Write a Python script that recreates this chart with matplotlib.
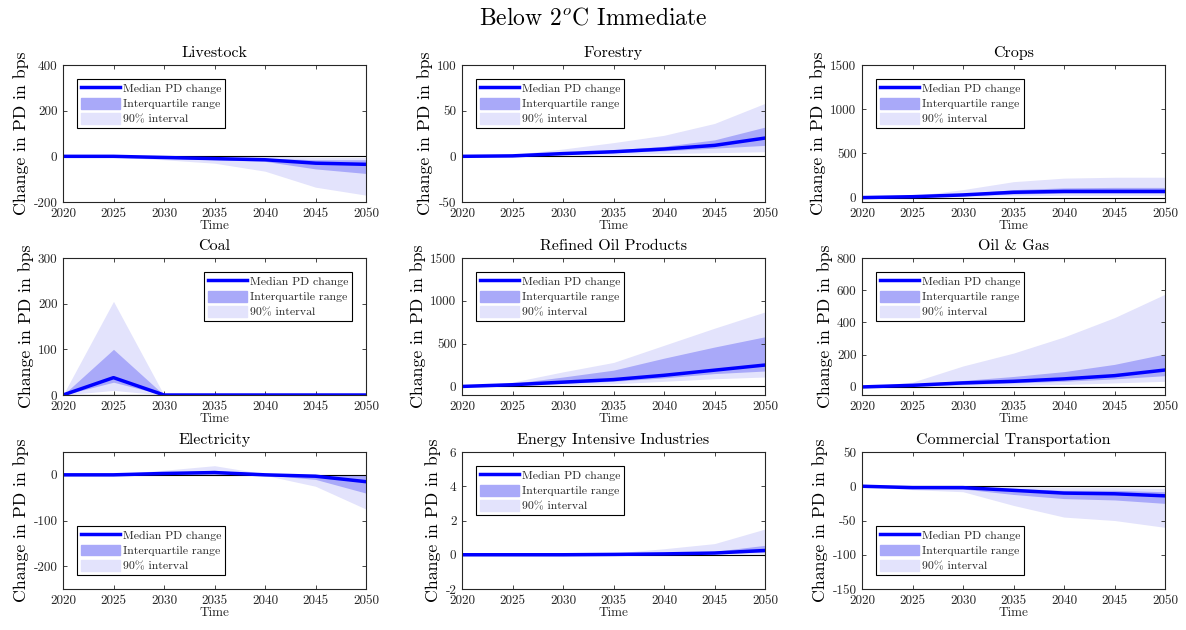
import matplotlib
matplotlib.use('Agg')
import matplotlib.pyplot as plt
import numpy as np
from matplotlib.patches import Patch
from matplotlib.lines import Line2D

plt.rcParams['font.family'] = ['cmr10', 'DejaVu Serif']
plt.rcParams['mathtext.fontset'] = 'cm'
plt.rcParams['axes.unicode_minus'] = False

years = [2020, 2025, 2030, 2035, 2040, 2045, 2050]

sectors = ['Livestock', 'Forestry', 'Crops',
           'Coal', 'Refined Oil Products', 'Oil & Gas',
           'Electricity', 'Energy Intensive Industries', 'Commercial Transportation']

median = {
    'Livestock': [0, 0, -5, -10, -15, -30, -35],
    'Forestry': [0, 0.5, 3, 5, 8, 12, 20],
    'Crops': [0, 10, 30, 60, 70, 70, 70],
    'Coal': [0, 38, 0, 0, 0, 0, 0],
    'Refined Oil Products': [0, 20, 50, 80, 130, 190, 250],
    'Oil & Gas': [0, 10, 25, 35, 50, 70, 105],
    'Electricity': [0, 0, 3, 5, 0, -3, -15],
    'Energy Intensive Industries': [0, 0, 0, 0.02, 0.05, 0.1, 0.25],
    'Commercial Transportation': [0, -2, -2, -6, -10, -11, -14],
}
iqr_low = {
    'Livestock': [0, -2, -8, -15, -22, -55, -75],
    'Forestry': [0, 0.3, 2, 4, 6, 9, 12],
    'Crops': [0, 5, 20, 40, 50, 50, 50],
    'Coal': [0, 28, 0, 0, 0, 0, 0],
    'Refined Oil Products': [0, 15, 35, 60, 100, 150, 180],
    'Oil & Gas': [0, 5, 15, 25, 35, 50, 70],
    'Electricity': [0, 0, 1, 2, 0, -10, -40],
    'Energy Intensive Industries': [0, 0, 0, 0, 0.03, 0.08, 0.15],
    'Commercial Transportation': [0, -3, -4, -12, -18, -20, -25],
}
iqr_high = {
    'Livestock': [0, 0, -3, -5, -8, -15, -15],
    'Forestry': [0, 1, 4, 7, 11, 18, 32],
    'Crops': [0, 15, 45, 90, 110, 115, 115],
    'Coal': [0, 100, 0, 0, 0, 0, 0],
    'Refined Oil Products': [0, 35, 110, 190, 330, 460, 580],
    'Oil & Gas': [0, 15, 40, 65, 95, 140, 205],
    'Electricity': [0, 1, 5, 10, 1, 0, 0],
    'Energy Intensive Industries': [0, 0, 0, 0.05, 0.1, 0.2, 0.55],
    'Commercial Transportation': [0, -1, -1, -3, -6, -6, -8],
}
p5 = {
    'Livestock': [0, -3, -15, -30, -65, -135, -170],
    'Forestry': [0, 0, 1, 2, 3, 4, 5],
    'Crops': [0, 2, 10, 20, 25, 25, 25],
    'Coal': [0, 10, 0, 0, 0, 0, 0],
    'Refined Oil Products': [0, 5, 20, 30, 60, 90, 110],
    'Oil & Gas': [0, 2, 5, 10, 15, 25, 35],
    'Electricity': [0, -1, 0, -2, -1, -25, -75],
    'Energy Intensive Industries': [0, 0, 0, 0, 0.01, 0.03, 0.05],
    'Commercial Transportation': [0, -5, -8, -28, -45, -50, -60],
}
p95 = {
    'Livestock': [0, 0, 0, 0, 0, -5, -5],
    'Forestry': [0, 2, 8, 15, 23, 36, 58],
    'Crops': [0, 20, 90, 180, 220, 230, 230],
    'Coal': [0, 205, 0, 0, 0, 0, 0],
    'Refined Oil Products': [0, 50, 170, 280, 480, 680, 870],
    'Oil & Gas': [0, 30, 130, 210, 310, 430, 575],
    'Electricity': [0, 2, 10, 20, 2, 0, 0],
    'Energy Intensive Industries': [0, 0.01, 0.02, 0.1, 0.35, 0.65, 1.5],
    'Commercial Transportation': [3, 0, 0, -1, -2, -2, -3],
}

ylims = {
    'Livestock': (-200, 400), 'Forestry': (-50, 100), 'Crops': (-50, 1500),
    'Coal': (0, 300), 'Refined Oil Products': (-100, 1500), 'Oil & Gas': (-50, 800),
    'Electricity': (-250, 50), 'Energy Intensive Industries': (-2, 6),
    'Commercial Transportation': (-150, 50),
}
yticks = {
    'Livestock': [-200, 0, 200, 400], 'Forestry': [-50, 0, 50, 100],
    'Crops': [0, 500, 1000, 1500], 'Coal': [0, 100, 200, 300],
    'Refined Oil Products': [0, 500, 1000, 1500], 'Oil & Gas': [0, 200, 400, 600, 800],
    'Electricity': [-200, -100, 0], 'Energy Intensive Industries': [-2, 0, 2, 4, 6],
    'Commercial Transportation': [-150, -100, -50, 0, 50],
}
legend_loc = {'Coal': 'upper right', 'Electricity': 'lower left',
              'Commercial Transportation': 'lower left'}

c_med = (0, 0, 1)
c_iqr = '#a9a9f9'
c_90 = '#e3e3fc'
gray = '#262626'

W, H = 1186, 630
fig = plt.figure(figsize=(W / 100, H / 100), dpi=100)
fig.text(0.5, 1 - 18 / H, 'Below 2$^o$C Immediate', ha='center', va='center', fontsize=17)

lefts = [63, 462, 862]
tops = [65, 258, 452]
aw, ah = 303, 137

for i, s in enumerate(sectors):
    r, c = divmod(i, 3)
    ax = fig.add_axes([lefts[c] / W, 1 - (tops[r] + ah) / H, aw / W, ah / H])
    ax.fill_between(years, p5[s], p95[s], color=c_90, lw=0)
    ax.fill_between(years, iqr_low[s], iqr_high[s], color=c_iqr, lw=0)
    ax.axhline(0, color='black', lw=0.8)
    ax.plot(years, median[s], color=c_med, lw=2.5)
    ax.set_xlim(2020, 2050)
    ax.set_ylim(*ylims[s])
    ax.set_xticks(years)
    ax.set_yticks(yticks[s])
    ax.set_title(s, fontsize=11.5, pad=6)
    ax.set_xlabel('Time', fontsize=9.5, color=gray, labelpad=0)
    ax.set_ylabel('Change in PD in bps', fontsize=12.8, labelpad=3)
    ax.tick_params(direction='in', top=True, right=True, labelsize=9.5,
                   colors=gray, length=3, width=0.6, pad=4)
    for sp in ax.spines.values():
        sp.set_color(gray)
        sp.set_linewidth(0.8)
    handles = [Line2D([0], [0], color=c_med, lw=2.5),
               Patch(color=c_iqr), Patch(color=c_90)]
    labels = ['Median PD change', 'Interquartile range', '90% interval']
    leg = ax.legend(handles, labels, loc=legend_loc.get(s, 'upper left'),
                    fontsize=8.5, fancybox=False, edgecolor='black',
                    framealpha=1, handlelength=3.3, handleheight=1.05,
                    borderaxespad=1.2, labelspacing=0.32, borderpad=0.3,
                    handletextpad=0.25)
    leg.get_frame().set_linewidth(0.8)
    for t in leg.get_texts():
        t.set_color(gray)

plt.savefig('out.png', dpi=100)
